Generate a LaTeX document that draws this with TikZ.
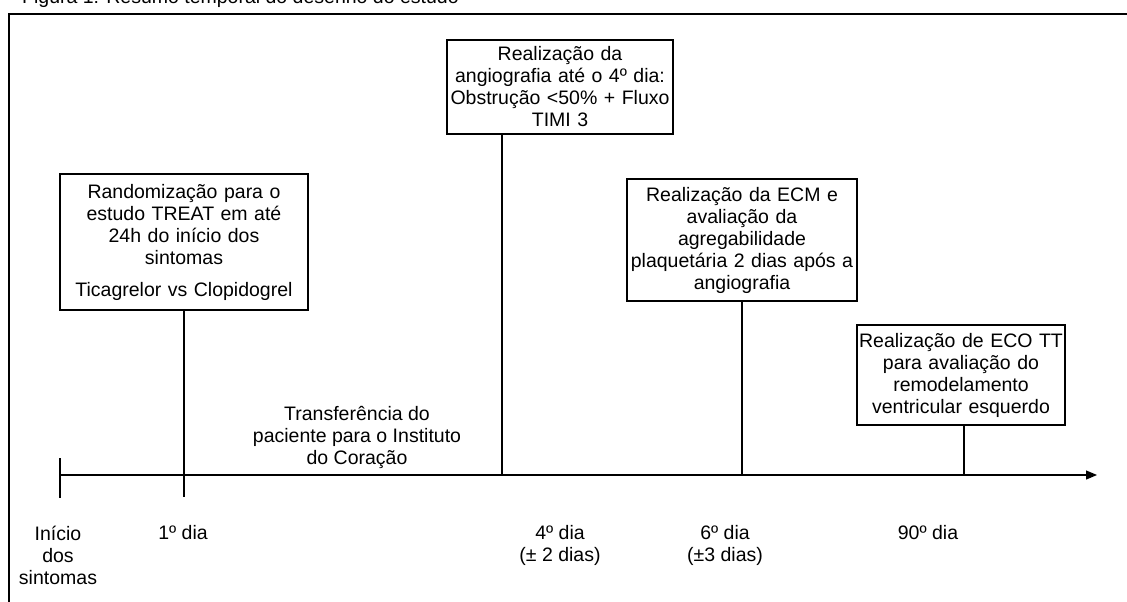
\documentclass[tikz,border=0pt]{standalone}
\usepackage{fontspec}
\setmainfont{Liberation Sans}
\usetikzlibrary{arrows.meta}

\begin{document}
\begin{tikzpicture}[x=1pt,y=-1pt,
	every node/.style={font=\fontsize{19.5}{22}\selectfont, align=center, inner sep=0pt},
	etapa/.style={draw, line width=1.2pt, inner xsep=2pt, inner ysep=4pt, text width=#1},
	marca/.style={line width=1.2pt}]
	\useasboundingbox (0,0) rectangle (1127,602);
	% Title and frame
	\path (22,4) node [anchor=base west] (titulo) {Figura 1: Resumo temporal do desenho do estudo};
	\draw [line width=1.6pt] (9,620) -- (9,14) -- (1140,14);
	% Time axis
	\coordinate (inicio) at (60,475);
	\coordinate (fim) at (1097,475);
	\draw [marca, -{Triangle[length=11pt,width=9pt]}] (inicio) -- (fim);
	\draw [marca] (60,458) coordinate (t0a) -- (60,498) coordinate (t0b);
	% Boxes
	\path (184,242) node [etapa=244, minimum height=136] (rand) {Randomização para o\\estudo TREAT em até\\24h do início dos\\sintomas\\[10pt]Ticagrelor vs Clopidogrel};
	\path (560,87) node [etapa=222, minimum height=94] (angio) {Realização da\\angiografia até o 4º dia:\\Obstrução <50\% + Fluxo\\TIMI 3};
	\path (742,240) node [etapa=226, minimum height=122] (ecm) {Realização da ECM e\\avaliação da\\agregabilidade\\plaquetária 2 dias após a\\angiografia};
	\path (961,375) node [etapa=204, minimum height=100] (eco) {Realização de ECO TT\\para avaliação do\\remodelamento\\ventricular esquerdo};
	% Ticks from the boxes
	\coordinate (d1) at (184,497);
	\coordinate (d4) at (502,475);
	\coordinate (d90) at (964,475);
	\draw [marca] (rand.south) -- (d1);
	\draw [marca] (angio.south -| d4) -- (d4);
	\draw [marca] (ecm.south) -- (ecm.south |- inicio);
	\draw [marca] (eco.south -| d90) -- (d90);
	% Labels
	\path (357,437) node (transf) {Transferência do\\paciente para o Instituto\\do Coração};
	\path (58,555) node (l0) {Início\\dos\\sintomas};
	\path (183,533) node (l1) {1º dia};
	\path (560,545) node (l4) {4º dia\\(± 2 dias)};
	\path (725,545) node (l6) {6º dia\\(±3 dias)};
	\path (928,533) node (l90) {90º dia};
\end{tikzpicture}
\end{document}
